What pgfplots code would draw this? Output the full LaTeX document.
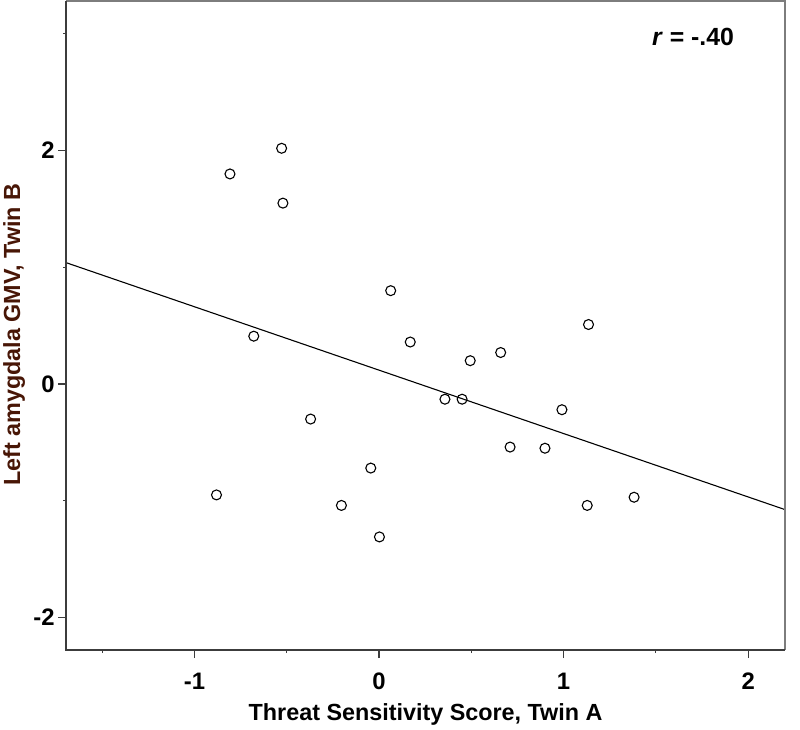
\documentclass[border=0pt]{standalone}
\usepackage{pgfplots}
\pgfplotsset{compat=1.18}
\usepackage{fontspec}
\setmainfont{Liberation Sans}
\definecolor{axdark}{RGB}{60,60,60}
\definecolor{axlight}{RGB}{125,125,125}
\definecolor{ylab}{RGB}{72,22,6}
\pgfplotstableread{
x y
-0.808 1.80
-0.528 2.02
-0.521 1.55
-0.679 0.41
0.063 0.80
0.169 0.36
0.494 0.20
0.659 0.27
1.135 0.51
0.357 -0.13
0.450 -0.13
0.991 -0.22
-0.371 -0.30
0.710 -0.54
0.899 -0.55
-0.045 -0.72
-0.881 -0.95
-0.204 -1.04
0.002 -1.31
1.128 -1.04
1.382 -0.97
}\pts
\begin{document}
\begin{tikzpicture}[x=1bp,y=1bp]
\begin{axis}[
  scale only axis,
  width=721bp, height=651bp,
  xmin=-1.696, xmax=2.2,
  ymin=-2.28, ymax=3.282,
  axis line style={draw=none},
  tick pos=left,
  tick align=outside,
  major tick length=8bp,
  minor tick length=3bp,
  every tick/.style={axdark, line width=1.2bp},
  xtick={-1,0,1,2}, xticklabels={-1,0,1,2},
  minor xtick={-1.5,-0.5,0.5,1.5},
  ytick={-2,0,2}, yticklabels={-2,0,2},
  minor ytick={-1,1,3},
  tick label style={font=\bfseries\fontsize{24}{24}\selectfont},
  xticklabel style={anchor=base, yshift=-31bp},
  yticklabel style={anchor=east},
  xlabel={Threat Sensitivity Score, Twin A},
  ylabel={Left amygdala GMV, Twin B},
  label style={font=\bfseries\fontsize{23.5}{23.5}\selectfont},
  xlabel style={at={(axis description cs:0.5,0)}, anchor=base, yshift=-71bp},
  ylabel style={at={(axis description cs:0,0.486)}, anchor=base, rotate=0, yshift=46bp, text=ylab},
  clip=false,
]
\addplot[only marks, mark=o, mark size=5bp, mark options={line width=1.1bp, black}] table[x=x,y=y] {\pts};
\addplot[black, line width=1.1bp] coordinates {(-1.696,1.04) (2.2,-1.076)};
\draw[axlight, line width=2bp] (rel axis cs:0,1) -- (rel axis cs:1,1) -- (rel axis cs:1,0);
\draw[axdark, line width=2bp] (rel axis cs:0,1) -- (rel axis cs:0,0) -- (rel axis cs:1,0);
\node[anchor=base, font=\bfseries\fontsize{25}{25}\selectfont] at (rel axis cs:0.872,0.931) {\textit{r} = -.40};
\end{axis}
\path (current axis.south west) +(-64bp,-77bp) (current axis.north east) +(15bp,1bp);
\end{tikzpicture}
\end{document}
